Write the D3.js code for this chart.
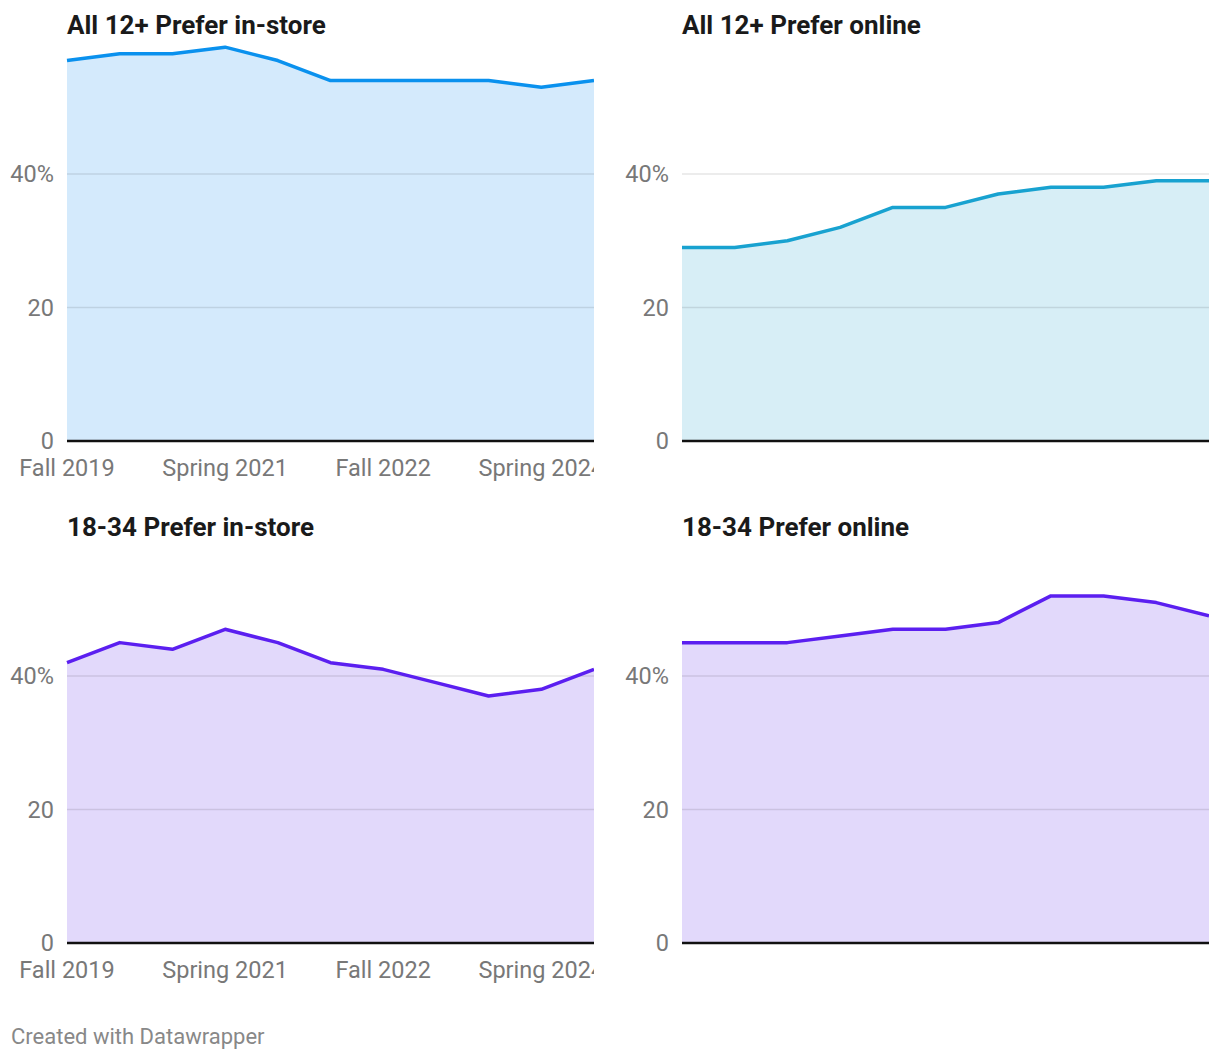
<!DOCTYPE html>
<html>
<head>
<meta charset="utf-8">
<script src="https://cdn.jsdelivr.net/npm/d3@7"></script>
<style>
  body { margin: 0; background: #fff; font-family: Roboto, "Noto Sans", sans-serif; }
</style>
</head>
<body>
<svg id="chart" width="1220" height="1060"></svg>
<script>
// ── Data ───────────────────────────────────────────────────────────────────
const seasons = ['Fall 2019', 'Spring 2020', 'Fall 2020', 'Spring 2021', 'Fall 2021',
  'Spring 2022', 'Fall 2022', 'Spring 2023', 'Fall 2023', 'Spring 2024', 'Fall 2024'];
const xTickLabels = ['Fall 2019', 'Spring 2021', 'Fall 2022', 'Spring 2024'];
const yTicks = [0, 20, 40];

const all12InStore = [57, 58, 58, 59, 57, 54, 54, 54, 54, 53, 54];
const all12Online  = [29, 29, 30, 32, 35, 35, 37, 38, 38, 39, 39];
const y1834InStore = [42, 45, 44, 47, 45, 42, 41, 39, 37, 38, 41];
const y1834Online  = [45, 45, 45, 46, 47, 47, 48, 52, 52, 51, 49];

const panels = [
  { title: 'All 12+ Prefer in-store', values: all12InStore, line: '#0a91ee', fill: '#d4eafc', col: 0, row: 0, xAxis: true },
  { title: 'All 12+ Prefer online',   values: all12Online,  line: '#18a2d0', fill: '#d7eef6', col: 1, row: 0, xAxis: false },
  { title: '18-34 Prefer in-store',   values: y1834InStore, line: '#5b1ff0', fill: '#e2d9fb', col: 0, row: 1, xAxis: true },
  { title: '18-34 Prefer online',     values: y1834Online,  line: '#5b1ff0', fill: '#e2d9fb', col: 1, row: 1, xAxis: false }
];

// ── Layout ─────────────────────────────────────────────────────────────────
const colX = [67, 682];
const rowY = [40.5, 542.5];
const W = 527, H = 400.5;

const svg = d3.select('#chart');

const x = d3.scalePoint().domain(seasons).range([0, W]);
const y = d3.scaleLinear().domain([0, 60]).range([H, 0]);

panels.forEach((p, i) => {
  const g = svg.append('g').attr('transform', `translate(${colX[p.col]},${rowY[p.row]})`);

  svg.append('clipPath').attr('id', `clip${i}`)
    .append('rect').attr('x', -70).attr('y', -50).attr('width', W + 70).attr('height', H + 100);
  g.attr('clip-path', `url(#clip${i})`);

  // title
  g.append('text')
    .attr('x', 0).attr('y', -7)
    .attr('font-size', 26).attr('font-weight', 700).attr('fill', '#1a1a1a')
    .text(p.title);

  const pts = p.values.map((v, j) => ({ s: seasons[j], v }));

  g.append('path').datum(pts)
    .attr('fill', p.fill)
    .attr('d', d3.area().x(d => x(d.s)).y0(y(0)).y1(d => y(d.v)));

  // grid above the area (semi-transparent so it tints the fill)
  g.append('g').selectAll('line').data(yTicks.filter(t => t > 0)).join('line')
    .attr('x1', 0).attr('x2', W)
    .attr('y1', d => y(d)).attr('y2', d => y(d))
    .attr('stroke', 'rgba(0,0,0,0.1)').attr('stroke-width', 1.5);

  g.append('g').selectAll('text').data(yTicks).join('text')
    .attr('x', -13).attr('y', d => y(d)).attr('dy', '0.35em')
    .attr('text-anchor', 'end')
    .attr('font-size', 23.5).attr('fill', '#787878')
    .text(d => d === 40 ? '40%' : d);

  g.append('path').datum(pts)
    .attr('fill', 'none').attr('stroke', p.line).attr('stroke-width', 3.5)
    .attr('stroke-linejoin', 'round')
    .attr('d', d3.line().x(d => x(d.s)).y(d => y(d.v)));

  g.append('line')
    .attr('x1', 0).attr('x2', W).attr('y1', y(0)).attr('y2', y(0))
    .attr('stroke', '#111').attr('stroke-width', 2.5);

  if (p.xAxis) {
    g.append('g').selectAll('text').data(xTickLabels).join('text')
      .attr('x', d => x(d)).attr('y', H + 35)
      .attr('text-anchor', 'middle')
      .attr('font-size', 23.5).attr('fill', '#787878')
      .text(d => d);
  }
});

svg.append('text')
  .attr('x', 11).attr('y', 1044)
  .attr('font-size', 22).attr('fill', '#888')
  .text('Created with Datawrapper');
</script>
</body>
</html>
